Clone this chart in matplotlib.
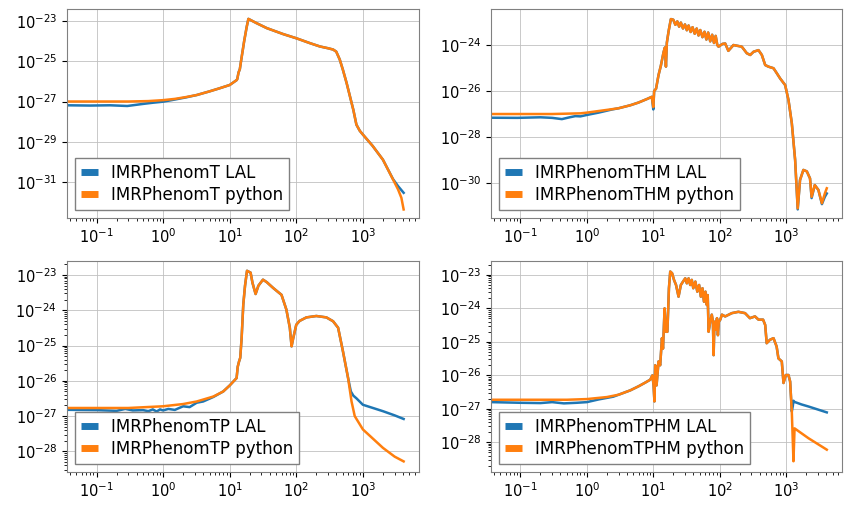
import matplotlib
matplotlib.use("Agg")
import matplotlib.pyplot as plt

# ---------------- IMRPhenomT ----------------
t_py_f = [0.036, 0.1, 0.3, 0.6, 1.0, 1.5, 2.2, 3.2, 5.0, 7.0, 10.0, 12.7, 13.0, 13.6, 14.2, 14.8,
          16.5, 18.0, 19.1, 25, 36, 64, 100, 160, 226, 300, 357, 398, 450, 502, 570, 635, 720,
          800, 900, 1000, 1400, 2000, 2840, 3380, 3790, 4096]
t_py_a = [1.0e-27, 1.0e-27, 1.0e-27, 1.05e-27, 1.17e-27, 1.35e-27, 1.66e-27, 2.1e-27, 3.2e-27,
          4.5e-27, 6.6e-27, 1.15e-26, 1.3e-26, 2.8e-26, 4.0e-26, 1.0e-25, 1.0e-24, 5.0e-24,
          1.26e-23, 7.9e-24, 4.4e-24, 2.2e-24, 1.38e-24, 7.9e-25, 5.4e-25, 4.4e-25, 3.8e-25,
          3.0e-25, 1.2e-25, 3.7e-26, 8.3e-27, 2.0e-27, 3.8e-28, 7.1e-29, 3.5e-29, 2.3e-29,
          6.3e-30, 1.3e-30, 1.35e-31, 4.3e-32, 1.66e-32, 4.4e-33]
t_lal_f = [0.036, 0.08, 0.16, 0.29, 0.5, 0.7, 1.0, 1.4, 2.2, 3.2, 5.0, 7.0, 10.0, 12.7, 13.0,
           13.6, 14.2, 14.8, 16.5, 18.0, 19.1, 25, 36, 64, 100, 160, 226, 300, 357, 398, 450,
           502, 570, 635, 720, 800, 900, 1000, 1400, 2000, 2840, 3380, 4096]
t_lal_a = [6.5e-28, 6.3e-28, 6.5e-28, 6.0e-28, 7.6e-28, 8.7e-28, 9.8e-28, 1.2e-27, 1.6e-27,
           2.1e-27, 3.2e-27, 4.5e-27, 6.6e-27, 1.15e-26, 1.3e-26, 2.8e-26, 4.0e-26, 1.0e-25,
           1.0e-24, 5.0e-24, 1.26e-23, 7.9e-24, 4.4e-24, 2.2e-24, 1.38e-24, 7.9e-25, 5.4e-25,
           4.4e-25, 3.8e-25, 3.0e-25, 1.2e-25, 3.7e-26, 8.3e-27, 2.0e-27, 3.8e-28, 7.1e-29,
           3.5e-29, 2.3e-29, 6.3e-30, 1.3e-30, 1.4e-31, 6.3e-32, 2.95e-32]

# ---------------- IMRPhenomTHM ----------------
thm_py_f = [0.036, 0.3, 0.8, 1.0, 2.0, 3.0, 4.5, 6.0, 8.0, 9.5, 10.0]
thm_py_a = [1.0e-27, 1.0e-27, 1.07e-27, 1.15e-27, 1.51e-27, 1.78e-27, 2.4e-27, 3.16e-27,
            4.47e-27, 5.6e-27, 2.0e-27]
thm_lal_f = [0.036, 0.09, 0.2, 0.3, 0.42, 0.55, 0.67, 0.8, 1.0, 1.5, 2.4, 3.0, 4.5, 6.0, 8.0,
             9.5, 10.0]
thm_lal_a = [6.9e-28, 6.8e-28, 7.2e-28, 6.8e-28, 6.0e-28, 7.2e-28, 8.1e-28, 7.9e-28, 9.1e-28,
             1.15e-27, 1.58e-27, 1.78e-27, 2.4e-27, 3.16e-27, 4.47e-27, 5.6e-27, 1.58e-27]
thm_mid_f = [10.3, 11.0, 12.0, 13.0, 14.3, 15.0, 15.5, 16.0, 17.0, 18.4, 20, 21.5, 23, 24.5, 26,
             28, 30, 32, 34, 36.5, 39, 42, 45, 48, 51, 55, 59, 63, 67, 72, 77, 82, 87, 92, 96,
             110, 121, 135, 161, 215, 256, 288, 323, 384, 431, 484, 541, 646, 725, 814, 967,
             1085, 1218, 1367]
thm_mid_a = [1.0e-26, 1.26e-26, 5.0e-26, 1.26e-25, 5.0e-25, 7.9e-25, 1.15e-25, 1.26e-24,
             4.0e-24, 1.35e-23, 1.26e-23, 7.6e-24, 1.07e-23, 6.3e-24, 9.5e-24, 5.25e-24, 7.9e-24,
             4.4e-24, 7.1e-24, 3.7e-24, 6.0e-24, 3.1e-24, 5.25e-24, 2.6e-24, 4.5e-24, 2.2e-24,
             3.8e-24, 1.74e-24, 3.5e-24, 1.45e-24, 2.8e-24, 1.23e-24, 2.5e-24, 1.0e-24, 8.5e-25,
             1.12e-24, 1.17e-24, 5.6e-25, 1.0e-24, 8.5e-25, 4.4e-25, 3.7e-25, 5.1e-25, 6.0e-25,
             3.7e-25, 1.35e-25, 1.15e-25, 9.8e-26, 5.9e-26, 3.5e-26, 1.82e-26, 4.1e-27, 4.0e-28,
             1.0e-29]
thm_py_tail_f = [1495, 1620, 1820, 2050, 2290, 2420, 2700, 3060, 3460, 3830, 4096]
thm_py_tail_a = [7.9e-32, 1.35e-30, 3.7e-30, 3.2e-30, 1.58e-30, 2.5e-31, 8.1e-31, 5.0e-31,
                 1.32e-31, 3.5e-31, 5.9e-31]
thm_lal_tail_f = [1495, 1620, 1820, 2050, 2290, 2420, 2700, 3060, 3460, 3830, 4096]
thm_lal_tail_a = [7.1e-32, 1.35e-30, 3.7e-30, 3.2e-30, 1.58e-30, 2.2e-31, 8.1e-31, 5.0e-31,
                  1.2e-31, 2.5e-31, 3.5e-31]

# ---------------- IMRPhenomTP ----------------
tp_py_low_f = [0.036, 0.3, 1.0, 2.0, 3.2, 5.7]
tp_py_low_a = [1.7e-27, 1.7e-27, 1.9e-27, 2.2e-27, 2.6e-27, 3.6e-27]
tp_lal_low_f = [0.036, 0.1, 0.2, 0.27, 0.35, 0.5, 0.6, 0.7, 0.8, 0.9, 1.0, 1.2, 1.5, 2.0, 2.5,
                3.2, 4.0, 5.7]
tp_lal_low_a = [1.51e-27, 1.48e-27, 1.41e-27, 1.6e-27, 1.45e-27, 1.48e-27, 1.38e-27, 1.55e-27,
                1.35e-27, 1.55e-27, 1.45e-27, 1.6e-27, 1.5e-27, 1.9e-27, 1.8e-27, 2.4e-27,
                2.6e-27, 3.5e-27]
tp_mid_f = [8.0, 10.0, 12.7, 13.2, 13.8, 14.4, 15.1, 16.0, 17.0, 18.2, 20.6, 22.0, 24.5, 27,
            31.6, 36, 45, 60, 71, 80, 85, 90, 100, 112, 142, 200, 283, 357, 425, 502, 600]
tp_mid_a = [5.0e-27, 7.4e-27, 1.2e-26, 2.5e-26, 3.5e-26, 4.5e-26, 1.6e-25, 1.45e-24, 5.0e-24,
            1.32e-23, 1.17e-23, 6.0e-24, 2.9e-24, 5.0e-24, 7.4e-24, 6.3e-24, 4.3e-24, 2.75e-24,
            1.05e-24, 3.2e-25, 9.5e-26, 1.62e-25, 3.9e-25, 5.0e-25, 6.3e-25, 6.9e-25, 6.3e-25,
            4.9e-25, 3.2e-25, 6.9e-26, 1.2e-26]
tp_py_tail_f = [676, 755, 1000, 2000, 3000, 4096]
tp_py_tail_a = [2.6e-27, 1.0e-27, 4.2e-28, 1.26e-28, 7.1e-29, 5.2e-29]
tp_lal_tail_f = [660, 720, 800, 1000, 2000, 3000, 4096]
tp_lal_tail_a = [5.0e-27, 3.8e-27, 3.2e-27, 2.1e-27, 1.38e-27, 1.05e-27, 8.3e-28]

# ---------------- IMRPhenomTPHM ----------------
tphm_py_low_f = [0.036, 0.5, 1.0, 2.0]
tphm_py_low_a = [1.86e-27, 1.86e-27, 1.95e-27, 2.24e-27]
tphm_lal_low_f = [0.036, 0.1, 0.2, 0.3, 0.45, 0.7, 1.0, 1.5, 2.5]
tphm_lal_low_a = [1.58e-27, 1.51e-27, 1.48e-27, 1.58e-27, 1.45e-27, 1.51e-27, 1.58e-27,
                  1.9e-27, 2.3e-27]
tphm_mid_f = [3.0, 4.5, 6.0, 7.5, 9.0, 9.7, 10.1, 10.4, 10.7, 11.2, 12.0, 12.7, 13.5, 14.0, 14.8,
              15.5, 16.3, 17.2, 18.0, 19.2, 20.5, 22.0, 24.0, 26, 28, 30.3, 32, 34, 36, 38, 40,
              43, 46, 49, 52, 55, 58, 61, 64, 66, 68, 72, 76, 79, 81, 83, 86, 88, 91, 94, 97,
              102, 108, 121, 152, 191, 241, 285, 340, 384, 450, 484, 510, 570, 646, 720, 766,
              861, 913, 990, 1085, 1150, 1218]
tphm_mid_a = [2.63e-27, 3.55e-27, 4.7e-27, 6.0e-27, 7.4e-27, 1.0e-26, 5.0e-27, 1.66e-27,
              2.0e-26, 5.0e-27, 2.6e-26, 2.0e-26, 1.29e-25, 6.3e-26, 1.0e-24, 2.0e-25, 2.0e-25,
              4.0e-24, 1.26e-23, 1.12e-23, 7.1e-24, 5.0e-24, 2.24e-24, 5.0e-24, 6.3e-24, 7.9e-24,
              5.6e-24, 7.9e-24, 5.0e-24, 7.1e-24, 4.0e-24, 6.3e-24, 3.16e-24, 5.0e-24, 2.24e-24,
              4.0e-24, 1.58e-24, 3.16e-24, 1.26e-24, 2.5e-24, 2.0e-25, 4.0e-25, 6.5e-25, 4.0e-25,
              4.0e-26, 3.2e-25, 4.1e-25, 2.3e-25, 5.1e-25, 1.58e-25, 4.0e-25, 4.6e-25, 6.5e-25,
              5.75e-25, 7.2e-25, 7.9e-25, 7.2e-25, 5.1e-25, 5.75e-25, 4.6e-25, 4.6e-25, 3.2e-25,
              9.1e-26, 1.15e-25, 1.29e-25, 7.2e-26, 3.2e-26, 2.6e-26, 5.9e-27, 1.02e-26,
              1.02e-26, 6.5e-27, 8.3e-28]
tphm_py_tail_f = [1290, 1340, 1700, 2170, 4096]
tphm_py_tail_a = [2.7e-29, 2.6e-28, 1.86e-28, 1.32e-28, 6.0e-29]
tphm_lal_tail_f = [1260, 1290, 1340, 1700, 2170, 4096]
tphm_lal_tail_a = [1.2e-27, 1.74e-27, 1.6e-27, 1.35e-27, 1.17e-27, 7.8e-28]

panels = [
    ("IMRPhenomT", t_lal_f, t_lal_a, t_py_f, t_py_a, (1.66e-33, 3.9e-23)),
    ("IMRPhenomTHM", thm_lal_f + thm_mid_f + thm_lal_tail_f, thm_lal_a + thm_mid_a + thm_lal_tail_a,
     thm_py_f + thm_mid_f + thm_py_tail_f, thm_py_a + thm_mid_a + thm_py_tail_a, (3.0e-32, 3.7e-23)),
    ("IMRPhenomTP", tp_lal_low_f + tp_mid_f + tp_lal_tail_f, tp_lal_low_a + tp_mid_a + tp_lal_tail_a,
     tp_py_low_f + tp_mid_f + tp_py_tail_f, tp_py_low_a + tp_mid_a + tp_py_tail_a, (2.6e-29, 2.5e-23)),
    ("IMRPhenomTPHM", tphm_lal_low_f + tphm_mid_f + tphm_lal_tail_f,
     tphm_lal_low_a + tphm_mid_a + tphm_lal_tail_a,
     tphm_py_low_f + tphm_mid_f + tphm_py_tail_f, tphm_py_low_a + tphm_mid_a + tphm_py_tail_a,
     (1.29e-29, 2.6e-23)),
]

rects = [
    [0.0786, 0.5734, 0.4131, 0.4090],
    [0.5763, 0.5734, 0.4120, 0.4090],
    [0.0786, 0.0763, 0.4131, 0.4129],
    [0.5763, 0.0763, 0.4120, 0.4129],
]

fig = plt.figure(figsize=(8.52, 5.11), dpi=100)
for (name, lf, la, pf, pa, ylim), rect in zip(panels, rects):
    ax = fig.add_axes(rect)
    ax.plot(lf, la, color="#1f77b4", lw=1.8, label=name + " LAL")
    ax.plot(pf, pa, color="#ff7f0e", lw=1.8, label=name + " python")
    ax.set_xscale("log")
    ax.set_yscale("log")
    ax.set_xlim(0.036, 6950)
    ax.set_ylim(*ylim)
    ax.grid(True, color="#c0c0c0", lw=0.6)
    ax.set_axisbelow(True)
    for s in ax.spines.values():
        s.set_color("#808080")
    ax.tick_params(labelsize=10.5)
    leg = ax.legend(loc="lower left", fontsize=12, handlelength=1.0, fancybox=False,
                    edgecolor="#808080", framealpha=1.0, labelspacing=0.25, borderpad=0.35)
    for h in leg.legend_handles:
        h.set_linewidth(5)
        h.set_solid_capstyle("butt")

fig.savefig("out.png", dpi=100)
